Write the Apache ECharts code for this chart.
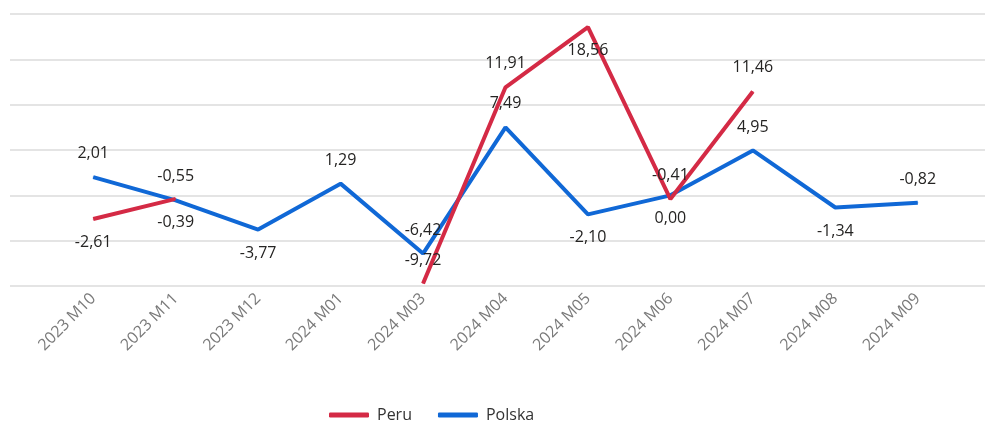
<!DOCTYPE html>
<html>
<head>
<meta charset="utf-8">
<script src="https://cdn.jsdelivr.net/npm/echarts@6/dist/echarts.min.js"></script>
<style>html,body{margin:0;padding:0;background:#fff}#c{width:985px;height:422px}</style>
</head>
<body>
<div id="c"></div>
<script>
const categories = ['2023 M10','2023 M11','2023 M12','2024 M01','2024 M03','2024 M04','2024 M05','2024 M06','2024 M07','2024 M08','2024 M09'];
const peru = [-2.61, -0.39, null, null, -9.72, 11.91, 18.56, -0.41, 11.46, null, null];
const polska = [2.01, -0.55, -3.77, 1.29, -6.42, 7.49, -2.10, 0.00, 4.95, -1.34, -0.82];
const peruLabelPos = ['bottom','bottom',null,null,'top','top','bottom','top','top',null,null];
const polskaLabelPos = ['top','top','bottom','top','top','top','bottom','bottom','top','bottom','top'];

const FONT = '"Open Sans","Noto Sans",sans-serif';
function build(vals, pos) {
  return vals.map((v, i) => v === null ? null : { value: v, label: { position: pos[i] } });
}
const fmt = p => Number(p.value).toFixed(2).replace('.', ',');
const chart = echarts.init(document.getElementById('c'), null, { renderer: 'canvas' });
chart.setOption({
  animation: false,
  backgroundColor: '#fff',
  grid: [
    { left: 10, right: 0, top: 14, bottom: 136 },
    { left: 52, right: 26, top: 14, bottom: 136 }
  ],
  xAxis: [
    { gridIndex: 0, type: 'value', show: false, min: 0, max: 1 },
    {
      gridIndex: 1, type: 'category', data: categories, boundaryGap: true,
      axisLine: { show: false }, axisTick: { show: false },
      axisLabel: { rotate: 45, color: '#7a7a7a', fontSize: 16, fontFamily: FONT, margin: 10 }
    }
  ],
  yAxis: [
    { gridIndex: 0, type: 'value', min: -10, max: 20, interval: 5,
      axisLabel: { show: false }, axisLine: { show: false }, axisTick: { show: false },
      splitLine: { show: true, lineStyle: { color: '#e4e4e4', width: 2 } } },
    { gridIndex: 1, type: 'value', min: -10, max: 20, interval: 5, show: false,
      splitLine: { show: false } }
  ],
  legend: {
    data: ['Peru', 'Polska'],
    left: 324, top: 402,
    icon: 'roundRect', itemWidth: 40, itemHeight: 5, itemGap: 26,
    textStyle: { fontSize: 16, color: '#333', fontFamily: FONT, padding: [0, 0, 0, 3] }
  },
  series: [
    {
      name: 'Polska', type: 'line', xAxisIndex: 1, yAxisIndex: 1,
      data: build(polska, polskaLabelPos),
      symbol: 'circle', symbolSize: 1, showSymbol: true,
      lineStyle: { color: '#1068D6', width: 4 }, itemStyle: { color: '#1068D6' },
      label: { show: true, formatter: fmt, color: '#252423', fontSize: 16, fontFamily: FONT, distance: 15 },
      labelLayout: { hideOverlap: false }
    },
    {
      name: 'Peru', type: 'line', xAxisIndex: 1, yAxisIndex: 1,
      data: build(peru, peruLabelPos), connectNulls: false,
      symbol: 'circle', symbolSize: 1, showSymbol: true,
      lineStyle: { color: '#D42A45', width: 4 }, itemStyle: { color: '#D42A45' },
      label: { show: true, formatter: fmt, color: '#252423', fontSize: 16, fontFamily: FONT, distance: 15 },
      labelLayout: { hideOverlap: false }
    }
  ]
});
</script>
</body>
</html>
